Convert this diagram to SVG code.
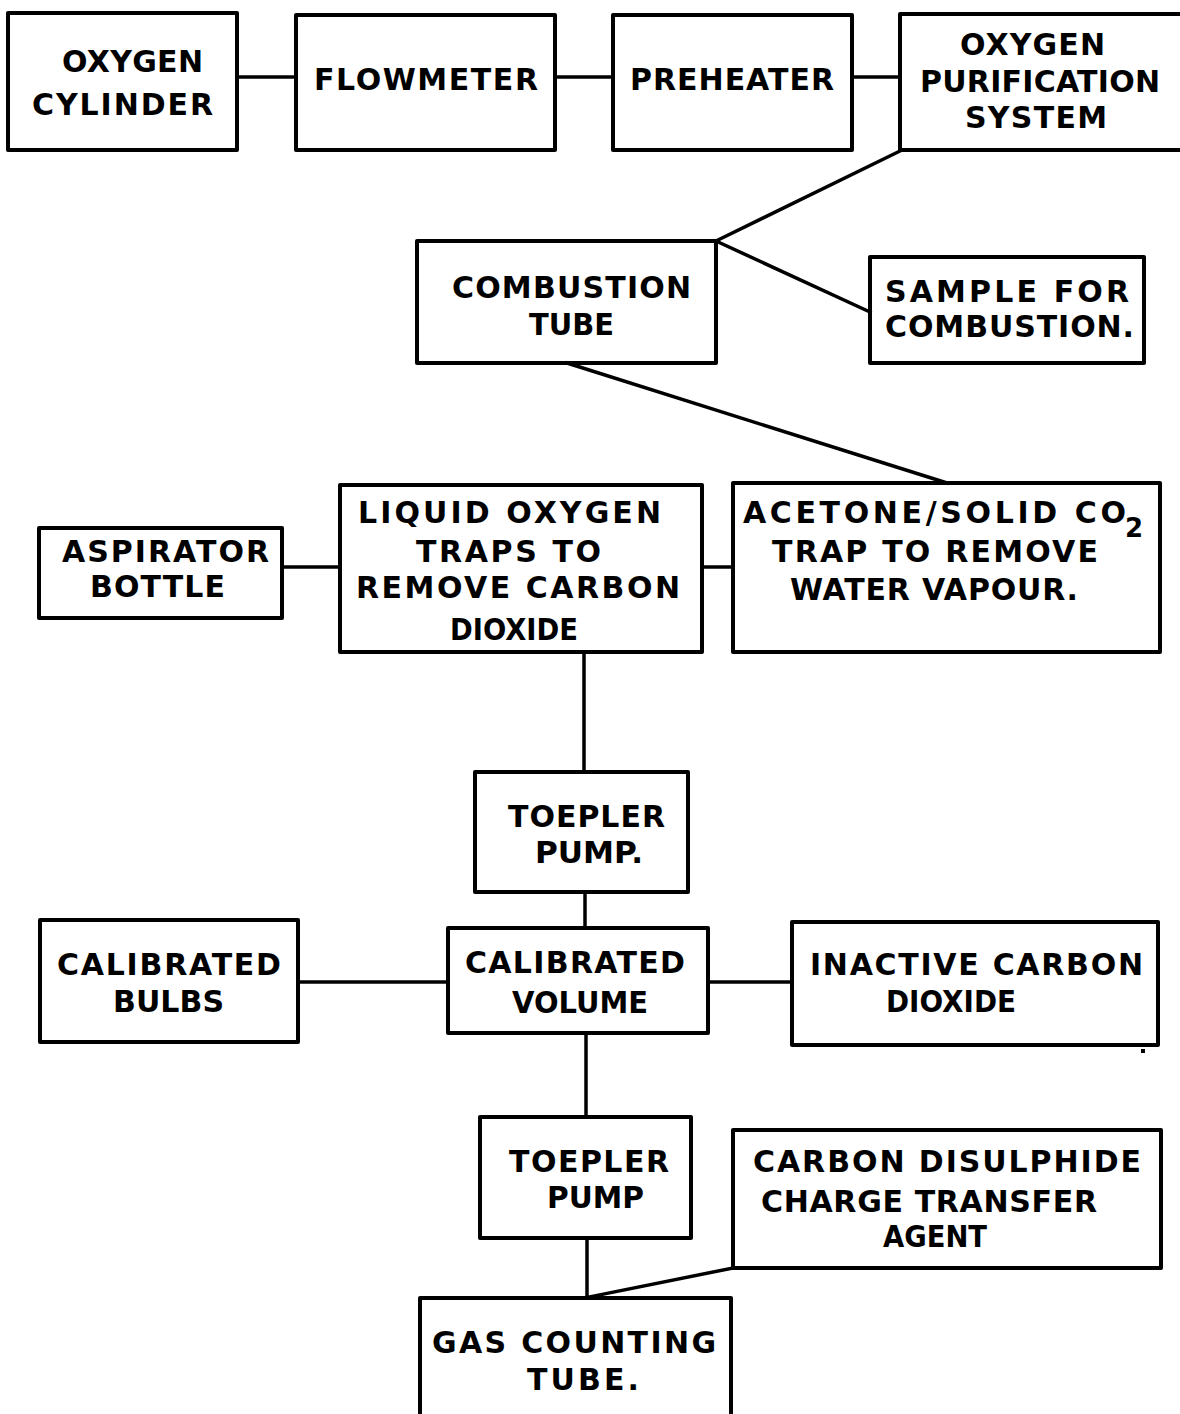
<svg xmlns="http://www.w3.org/2000/svg" width="1180" height="1414" viewBox="0 0 1180 1414">
<style>
rect.box{fill:none;stroke:#000;stroke-width:4;stroke-linejoin:round}
.conn path{fill:none;stroke:#000;stroke-width:3.5;stroke-linecap:square}
text{font-family:"DejaVu Sans","Liberation Sans",Arial,sans-serif;font-size:30px;font-weight:bold;fill:#000;text-anchor:middle}
</style>
<rect x="0" y="0" width="1180" height="1414" fill="#fff"/>
<g class="conn" id="connectors">
<path d="M237,77 H296"/>
<path d="M555,77 H613"/>
<path d="M852,77 H900"/>
<path d="M900,151 L716,241"/>
<path d="M716,241 L870,312"/>
<path d="M567,363 L947,483"/>
<path d="M282,567 H340"/>
<path d="M702,567 H733"/>
<path d="M584,652 V772"/>
<path d="M585,892 V928"/>
<path d="M298,982 H448"/>
<path d="M708,982 H792"/>
<path d="M586,1033 V1117"/>
<path d="M587,1238 V1298"/>
<path d="M733,1268 L589,1297"/>
</g>
<g id="oxygen-cylinder">
<rect class="box" x="8" y="13" width="229" height="137"/>
<text x="132.5" y="72" textLength="141">OXYGEN</text>
<text x="122.5" y="115" textLength="181">CYLINDER</text>
</g>
<g id="flowmeter">
<rect class="box" x="296" y="15" width="259" height="135"/>
<text x="426" y="90" textLength="224">FLOWMETER</text>
</g>
<g id="preheater">
<rect class="box" x="613" y="15" width="239" height="135"/>
<text x="732" y="90" textLength="204">PREHEATER</text>
</g>
<g id="oxygen-purification">
<rect class="box" x="900" y="14" width="300" height="136"/>
<text x="1032.5" y="55" textLength="145">OXYGEN</text>
<text x="1040" y="92" textLength="240">PURIFICATION</text>
<text x="1036" y="128" textLength="142">SYSTEM</text>
</g>
<g id="combustion-tube">
<rect class="box" x="417" y="241" width="299" height="122"/>
<text x="571.5" y="298" textLength="239">COMBUSTION</text>
<text x="571.5" y="335" textLength="85" lengthAdjust="spacingAndGlyphs">TUBE</text>
</g>
<g id="sample">
<rect class="box" x="870" y="257" width="274" height="106"/>
<text x="1007" y="302" textLength="244">SAMPLE FOR</text>
<text x="1009.5" y="337" textLength="249">COMBUSTION.</text>
</g>
<g id="aspirator-bottle">
<rect class="box" x="39" y="528" width="243" height="90"/>
<text x="165.5" y="562" textLength="207">ASPIRATOR</text>
<text x="157.5" y="597" textLength="135">BOTTLE</text>
</g>
<g id="liquid-oxygen-traps">
<rect class="box" x="340" y="485" width="362" height="167"/>
<text x="509.5" y="523" textLength="303">LIQUID OXYGEN</text>
<text x="508.5" y="562" textLength="185">TRAPS TO</text>
<text x="518" y="598" textLength="324">REMOVE CARBON</text>
<text x="514" y="640" textLength="128" lengthAdjust="spacingAndGlyphs">DIOXIDE</text>
</g>
<g id="acetone-trap">
<rect class="box" x="733" y="483" width="427" height="169"/>
<text x="743" y="523" textLength="383" style="text-anchor:start">ACETONE/SOLID CO</text>
<text x="1134" y="537" style="font-size:26px">2</text>
<text x="935" y="562" textLength="326">TRAP TO REMOVE</text>
<text x="934" y="600" textLength="288">WATER VAPOUR.</text>
</g>
<g id="toepler-pump-1">
<rect class="box" x="475" y="772" width="213" height="120"/>
<text x="586.5" y="827" textLength="157">TOEPLER</text>
<text x="589" y="863" textLength="108" lengthAdjust="spacingAndGlyphs">PUMP.</text>
</g>
<g id="calibrated-bulbs">
<rect class="box" x="40" y="920" width="258" height="122"/>
<text x="169" y="975" textLength="224">CALIBRATED</text>
<text x="168.5" y="1012" textLength="111">BULBS</text>
</g>
<g id="calibrated-volume">
<rect class="box" x="448" y="928" width="260" height="105"/>
<text x="575" y="973" textLength="220">CALIBRATED</text>
<text x="580" y="1013" textLength="136" lengthAdjust="spacingAndGlyphs">VOLUME</text>
</g>
<g id="inactive-co2">
<rect class="box" x="792" y="922" width="366" height="123"/>
<text x="976.5" y="975" textLength="333">INACTIVE CARBON</text>
<text x="951" y="1012" textLength="130" lengthAdjust="spacingAndGlyphs">DIOXIDE</text>
</g>
<rect x="1141" y="1049" width="4" height="4" fill="#000"/>
<g id="toepler-pump-2">
<rect class="box" x="480" y="1117" width="211" height="121"/>
<text x="589" y="1172" textLength="160">TOEPLER</text>
<text x="595.5" y="1208" textLength="97" lengthAdjust="spacingAndGlyphs">PUMP</text>
</g>
<g id="carbon-disulphide">
<rect class="box" x="733" y="1130" width="428" height="138"/>
<text x="947" y="1172" textLength="388">CARBON DISULPHIDE</text>
<text x="929" y="1212" textLength="336">CHARGE TRANSFER</text>
<text x="935" y="1247" textLength="104" lengthAdjust="spacingAndGlyphs">AGENT</text>
</g>
<g id="gas-counting-tube">
<rect class="box" x="420" y="1298" width="311" height="140"/>
<text x="574" y="1353" textLength="284">GAS COUNTING</text>
<text x="583" y="1390" textLength="112">TUBE.</text>
</g>
</svg>
